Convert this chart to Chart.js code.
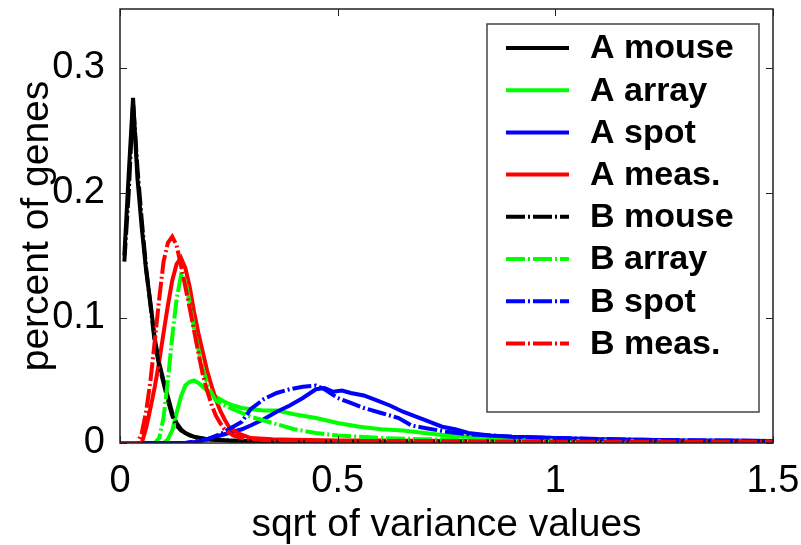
<!DOCTYPE html>
<html>
<head>
<meta charset="utf-8">
<script src="https://cdn.jsdelivr.net/npm/chart.js@4"></script>
<style>
  html, body { margin: 0; padding: 0; background: #fff; }
  canvas { display: block; }
</style>
</head>
<body>
<canvas id="myChart" width="801" height="545"></canvas>
<script>
var seriesNames = ['A mouse', 'A array', 'A spot', 'A meas.', 'B mouse', 'B array', 'B spot', 'B meas.'];
var xTicks = [0, 0.5, 1, 1.5];
var yTicks = [0, 0.1, 0.2, 0.3];

var aMouseX = [0.01, 0.02, 0.03, 0.04, 0.05, 0.06, 0.07, 0.08, 0.09, 0.10, 0.11, 0.12, 0.13, 0.14, 0.15, 0.17, 0.20, 0.25, 0.30, 0.40, 0.60, 0.80, 1.00, 1.20, 1.50];
var aMouseY = [0.15, 0.215, 0.276, 0.212, 0.172, 0.138, 0.112, 0.083, 0.064, 0.05, 0.037, 0.024, 0.016, 0.011, 0.008, 0.005, 0.003, 0.002, 0.0015, 0.001, 0.001, 0.001, 0.001, 0.001, 0.001];

var aArrayX = [0, 0.10, 0.11, 0.12, 0.13, 0.14, 0.15, 0.16, 0.17, 0.18, 0.20, 0.22, 0.24, 0.26, 0.28, 0.30, 0.33, 0.36, 0.40, 0.45, 0.50, 0.55, 0.60, 0.65, 0.70, 0.75, 0.80, 0.90, 1.00, 1.10, 1.20, 1.35, 1.50];
var aArrayY = [0, 0, 0.003, 0.01, 0.024, 0.037, 0.046, 0.049, 0.05, 0.048, 0.042, 0.037, 0.033, 0.03, 0.028, 0.027, 0.026, 0.026, 0.023, 0.02, 0.016, 0.013, 0.011, 0.01, 0.008, 0.006, 0.005, 0.004, 0.003, 0.0025, 0.002, 0.0015, 0.001];

var aSpotX = [0, 0.15, 0.18, 0.20, 0.22, 0.25, 0.28, 0.30, 0.33, 0.36, 0.39, 0.42, 0.45, 0.47, 0.49, 0.51, 0.53, 0.56, 0.59, 0.62, 0.65, 0.68, 0.71, 0.74, 0.77, 0.80, 0.85, 0.90, 0.95, 1.00, 1.10, 1.20, 1.30, 1.40, 1.50];
var aSpotY = [0, 0, 0.001, 0.003, 0.005, 0.008, 0.011, 0.014, 0.019, 0.025, 0.03, 0.036, 0.043, 0.044, 0.041, 0.042, 0.04, 0.038, 0.034, 0.03, 0.025, 0.021, 0.017, 0.013, 0.011, 0.008, 0.006, 0.005, 0.0045, 0.004, 0.003, 0.0025, 0.002, 0.002, 0.0015];

var aMeasX = [0, 0.05, 0.06, 0.07, 0.08, 0.09, 0.10, 0.11, 0.12, 0.13, 0.14, 0.15, 0.16, 0.17, 0.18, 0.19, 0.20, 0.21, 0.22, 0.23, 0.24, 0.25, 0.27, 0.30, 0.35, 0.40, 0.50, 0.60, 0.80, 1.00, 1.20, 1.50];
var aMeasY = [0, 0, 0.012, 0.028, 0.045, 0.065, 0.088, 0.11, 0.13, 0.143, 0.148, 0.14, 0.125, 0.105, 0.088, 0.073, 0.058, 0.046, 0.035, 0.026, 0.019, 0.013, 0.008, 0.004, 0.003, 0.0025, 0.002, 0.002, 0.0015, 0.0015, 0.001, 0.001];

var bMouseX = [0.01, 0.02, 0.03, 0.04, 0.05, 0.06, 0.07, 0.08, 0.09, 0.10, 0.11, 0.12, 0.13, 0.14, 0.16, 0.18, 0.20, 0.25, 0.30, 0.40, 0.60, 0.80, 1.00, 1.20, 1.50];
var bMouseY = [0.145, 0.2, 0.272, 0.22, 0.178, 0.14, 0.11, 0.08, 0.062, 0.048, 0.034, 0.022, 0.014, 0.01, 0.006, 0.004, 0.003, 0.002, 0.0015, 0.001, 0.001, 0.001, 0.001, 0.001, 0.001];

var bArrayX = [0, 0.08, 0.09, 0.10, 0.11, 0.12, 0.13, 0.14, 0.15, 0.16, 0.17, 0.18, 0.19, 0.20, 0.21, 0.22, 0.24, 0.26, 0.28, 0.30, 0.33, 0.36, 0.40, 0.45, 0.50, 0.55, 0.60, 0.70, 0.80, 1.00, 1.20, 1.50];
var bArrayY = [0, 0, 0.004, 0.02, 0.05, 0.085, 0.115, 0.134, 0.13, 0.112, 0.092, 0.075, 0.06, 0.048, 0.04, 0.034, 0.03, 0.027, 0.024, 0.021, 0.018, 0.015, 0.011, 0.008, 0.006, 0.005, 0.004, 0.003, 0.0025, 0.002, 0.0015, 0.001];

var bSpotX = [0, 0.15, 0.20, 0.23, 0.25, 0.28, 0.30, 0.33, 0.36, 0.39, 0.42, 0.45, 0.47, 0.50, 0.53, 0.56, 0.60, 0.64, 0.67, 0.70, 0.75, 0.80, 0.90, 1.00, 1.20, 1.50];
var bSpotY = [0, 0, 0.003, 0.007, 0.011, 0.017, 0.027, 0.035, 0.04, 0.043, 0.045, 0.046, 0.043, 0.036, 0.032, 0.028, 0.024, 0.02, 0.014, 0.012, 0.009, 0.007, 0.005, 0.004, 0.0025, 0.0015];

var bMeasX = [0, 0.04, 0.05, 0.06, 0.07, 0.08, 0.09, 0.10, 0.11, 0.12, 0.13, 0.14, 0.15, 0.16, 0.17, 0.18, 0.19, 0.20, 0.21, 0.22, 0.23, 0.24, 0.26, 0.28, 0.30, 0.35, 0.40, 0.50, 0.70, 1.00, 1.50];
var bMeasY = [0, 0, 0.008, 0.025, 0.05, 0.082, 0.115, 0.145, 0.16, 0.165, 0.158, 0.142, 0.125, 0.108, 0.09, 0.072, 0.055, 0.042, 0.031, 0.022, 0.016, 0.011, 0.006, 0.004, 0.003, 0.002, 0.002, 0.0015, 0.0015, 0.001, 0.001];

var seriesX = [aMouseX, aArrayX, aSpotX, aMeasX, bMouseX, bArrayX, bSpotX, bMeasX];
var seriesY = [aMouseY, aArrayY, aSpotY, aMeasY, bMouseY, bArrayY, bSpotY, bMeasY];
var colors = ['#000000', '#00ff00', '#0000ff', '#ff0000', '#000000', '#00ff00', '#0000ff', '#ff0000'];
var dashDot = [19, 3, 2, 3];

function points(xs, ys) {
  return xs.map(function (x, i) { return { x: x, y: ys[i] }; });
}

var datasets = seriesNames.map(function (name, i) {
  return {
    label: name,
    data: points(seriesX[i], seriesY[i]),
    borderColor: colors[i],
    borderWidth: 4,
    borderDash: i < 4 ? [] : dashDot,
    pointRadius: 0,
    tension: 0,
    fill: false,
    order: 7 - i
  };
});

// axes box with inward ticks, like matlab
var boxPlugin = {
  id: 'box',
  afterDatasetsDraw: function (chart) {
    var c = chart.ctx, a = chart.chartArea;
    var xs = chart.scales.x, ys = chart.scales.y;
    c.save();
    c.strokeStyle = '#222';
    c.lineWidth = 1.5;
    c.strokeRect(a.left, a.top, a.right - a.left, a.bottom - a.top);
    c.lineWidth = 1;
    c.beginPath();
    xTicks.forEach(function (v) {
      var px = Math.round(xs.getPixelForValue(v)) + 0.5;
      c.moveTo(px, a.bottom); c.lineTo(px, a.bottom - 7);
      c.moveTo(px, a.top); c.lineTo(px, a.top + 7);
    });
    yTicks.forEach(function (v) {
      var py = Math.round(ys.getPixelForValue(v)) + 0.5;
      c.moveTo(a.left, py); c.lineTo(a.left + 7, py);
      c.moveTo(a.right, py); c.lineTo(a.right - 7, py);
    });
    c.stroke();

    // legend
    c.fillStyle = '#fff';
    c.fillRect(487, 24, 272, 388);
    c.strokeStyle = '#444';
    c.lineWidth = 1.5;
    c.strokeRect(487, 24, 272, 388);
    c.font = 'bold 34px "Liberation Sans", Arial, sans-serif';
    c.textBaseline = 'middle';
    c.textAlign = 'left';
    seriesNames.forEach(function (name, i) {
      var y = 48 + i * 42.2;
      c.strokeStyle = colors[i];
      c.lineWidth = 4;
      c.setLineDash(i < 4 ? [] : dashDot);
      c.beginPath();
      c.moveTo(506, y); c.lineTo(569, y);
      c.stroke();
      c.setLineDash([]);
      c.fillStyle = '#000';
      c.fillText(name, 590, y + 1);
    });
    c.restore();
  }
};

function noPad(s) {
  s.paddingTop = 0; s.paddingBottom = 0; s.paddingLeft = 0; s.paddingRight = 0;
}

var ctx = document.getElementById('myChart').getContext('2d');
var myChart = new Chart(ctx, {
  type: 'line',
  data: { datasets: datasets },
  options: {
    responsive: false,
    animation: false,
    devicePixelRatio: 1,
    layout: { padding: { left: 0, top: 9, right: 28, bottom: 0 } },
    plugins: { legend: { display: false }, tooltip: { enabled: false } },
    scales: {
      x: {
        type: 'linear',
        min: 0,
        max: 1.5,
        afterFit: function (s) { s.height = 102; noPad(s); },
        afterBuildTicks: function (s) { s.ticks = xTicks.map(function (v) { return { value: v }; }); },
        grid: { display: false },
        border: { display: false },
        ticks: {
          color: '#000',
          padding: 8,
          maxRotation: 0,
          font: { family: '"Liberation Sans", Arial, sans-serif', size: 38 },
          callback: function (v) { return String(v); }
        },
        title: {
          display: true,
          text: 'sqrt of variance values',
          color: '#000',
          padding: { top: 3, bottom: 0 },
          font: { family: '"Liberation Sans", Arial, sans-serif', size: 39, lineHeight: 1 }
        }
      },
      y: {
        type: 'linear',
        min: 0,
        max: 0.347,
        afterFit: function (s) { s.width = 120; noPad(s); },
        afterBuildTicks: function (s) { s.ticks = yTicks.map(function (v) { return { value: v }; }); },
        grid: { display: false },
        border: { display: false },
        ticks: {
          color: '#000',
          padding: 7,
          font: { family: '"Liberation Sans", Arial, sans-serif', size: 38 },
          callback: function (v) { return String(v); }
        },
        title: {
          display: true,
          text: 'percent of genes',
          color: '#000',
          padding: { top: 18, bottom: 0 },
          font: { family: '"Liberation Sans", Arial, sans-serif', size: 39, lineHeight: 1 }
        }
      }
    }
  },
  plugins: [boxPlugin]
});
</script>
</body>
</html>
